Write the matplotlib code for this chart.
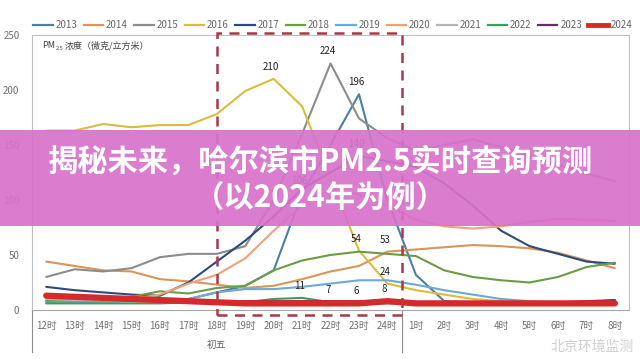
import numpy as np
import matplotlib
matplotlib.use('Agg')
import matplotlib.pyplot as plt
from matplotlib.lines import Line2D
from matplotlib.patches import Rectangle

plt.rcParams['font.family'] = ['Noto Sans CJK SC', 'DejaVu Sans']

hours = ['12时', '13时', '14时', '15时', '16时', '17时', '18时', '19时', '20时', '21时', '22时',
         '23时', '24时', '1时', '2时', '3时', '4时', '5时', '6时', '7时', '8时']

pm_2013 = [8, 8, 8, 9, 10, 10, 16, 22, 36, 106, 150, 196, 100, 32, 8, 7, 7, 7, 7, 7, 9]
pm_2014 = [44, 40, 36, 35, 28, 26, 23, 20, 22, 28, 35, 40, 53, 55, 57, 59, 58, 56, 52, 45, 38]
pm_2015 = [30, 37, 35, 38, 48, 51, 51, 58, 100, 160, 224, 174, 156, 145, 150, 155, 148, 140, 132, 124, 117]
pm_2016 = [163, 163, 169, 166, 168, 168, 178, 199, 210, 185, 120, 54, 24, 18, 14, 10, 8, 7, 7, 7, 7]
pm_2017 = [21, 18, 16, 14, 13, 25, 44, 63, 85, 110, 125, 140, 135, 130, 115, 95, 72, 58, 51, 44, 42]
pm_2018 = [9, 9, 10, 12, 17, 15, 20, 22, 36, 45, 50, 53, 51, 49, 36, 30, 27, 25, 30, 39, 43]
pm_2019 = [7, 7, 7, 8, 9, 10, 16, 19, 19, 21, 24, 27, 27, 23, 18, 14, 10, 8, 7, 7, 8]
pm_2020 = [12, 11, 10, 10, 14, 24, 32, 47, 72, 95, 110, 105, 95, 82, 76, 74, 76, 80, 83, 82, 81]
pm_2021 = [10, 9, 9, 8, 8, 8, 7, 7, 7, 7, 7, 7, 7, 7, 7, 7, 7, 7, 7, 7, 8]
pm_2022 = [6, 6, 6, 6, 6, 7, 7, 7, 10, 11, 7, 6, 6, 6, 6, 6, 6, 6, 6, 6, 6]
pm_2023 = [12, 11, 10, 10, 9, 9, 8, 8, 8, 8, 8, 8, 8, 7, 7, 7, 7, 7, 7, 8, 9]
pm_2024 = [13, 12, 11, 10, 9, 8, 7, 6, 6, 6, 6, 6, 8, 6, 6, 6, 6, 6, 6, 6, 6]

years = ['2013', '2014', '2015', '2016', '2017', '2018', '2019', '2020', '2021', '2022', '2023', '2024']
series = [pm_2013, pm_2014, pm_2015, pm_2016, pm_2017, pm_2018, pm_2019, pm_2020,
          pm_2021, pm_2022, pm_2023, pm_2024]
colors = ['#4e7fa3', '#d9955a', '#8c8c8c', '#dcbc3c', '#2e4a7d', '#6b9c46', '#6fa8d6',
          '#f2a07a', '#b5b5b5', '#3c9e5e', '#6b2a6b', '#d42a2a']

# (year index, hour index, label)
point_labels = [(3, 8, '210'), (2, 10, '224'), (0, 11, '196'), (4, 11, '140'), (0, 9, '106'),
                (3, 11, '54'), (1, 12, '53'), (3, 12, '24'), (9, 9, '11'), (9, 10, '7'),
                (11, 11, '6'), (11, 12, '8')]

fig = plt.figure(figsize=(6.4, 3.59), dpi=100)
ax = fig.add_axes([0.05, 0.1365, 0.933, 0.7665])

x = np.arange(len(hours))
for yr, vals, c in zip(years, series, colors):
    lw = 4.5 if yr == '2024' else 1.5
    ax.plot(x, vals, color=c, lw=lw, solid_capstyle='round', zorder=8 if yr == '2024' else 3)

for yi, hi, txt in point_labels:
    ax.annotate(txt, (x[hi], series[yi][hi]), xytext=(-2, 5), textcoords='offset points',
                ha='center', va='bottom', fontsize=7, color='#222222', zorder=10)

ax.set_xlim(-0.5, len(hours) - 0.5)
ax.set_ylim(0, 250)
ax.set_yticks([0, 50, 100, 150, 200, 250])
ax.set_xticks(x)
ax.set_xticklabels(hours)
ax.tick_params(axis='both', length=0, labelsize=7, labelcolor='#707070')
ax.tick_params(axis='x', pad=8)
ax.tick_params(axis='y', pad=9)
for s in ax.spines.values():
    s.set_color('#bfbfbf')
    s.set_linewidth(0.8)
ax.spines['bottom'].set_color('#a6a6a6')

# group separators under the category axis
for xs in [-0.5, 12.5]:
    ax.plot([xs, xs], [0, -38], color='#8c8c8c', lw=0.8, clip_on=False)
ax.text(6, -32, '初五', ha='center', va='center', fontsize=7, color='#666666')

# dashed highlight box
box = Rectangle((6, -4.5), 6.5, 256.5, fill=False, edgecolor='#a8384a', lw=1.8,
                linestyle=(0, (4, 3)), clip_on=False, zorder=6)
ax.add_patch(box)

# unit text
ax.annotate('PM', (0.017, 0.96), xycoords='axes fraction', fontsize=6.5, color='#444444',
            ha='left', va='center')
ax.annotate('2.5', (0.017, 0.96), xycoords='axes fraction', xytext=(10, -2),
            textcoords='offset points', fontsize=4, color='#444444', ha='left', va='center')
ax.annotate('浓度（微克/立方米）', (0.017, 0.96), xycoords='axes fraction', xytext=(16, 0),
            textcoords='offset points', fontsize=6.5, color='#444444', ha='left', va='center')

handles = [Line2D([], [], color=c, lw=(3.5 if y == '2024' else 1.6)) for y, c in zip(years, colors)]
fig.legend(handles, years, loc='center', bbox_to_anchor=(0.52, 0.929), ncol=12, frameon=False,
           fontsize=7, handlelength=2.0, handletextpad=0.3, columnspacing=0.65,
           labelcolor='#666666')

# watermark
fig.text(0.925, 0.033, '北京环境监测', ha='center', va='center', fontsize=10, color='#cfcfcf')

# title banner
banner = Rectangle((0, 1 - 226 / 359), 1, 96 / 359, transform=fig.transFigure,
                   facecolor='#d872cb', alpha=0.92, edgecolor='none', zorder=20)
fig.add_artist(banner)
fig.text(0.5, 1 - 162 / 359, '揭秘未来，哈尔滨市PM2.5实时查询预测', ha='center', va='center',
         fontsize=21.8, fontweight='bold', color='white', zorder=21)
fig.text(0.5, 1 - 198 / 359, '（以2024年为例）', ha='center', va='center',
         fontsize=21.8, fontweight='bold', color='white', zorder=21)

fig.savefig('out.png', dpi=100)
